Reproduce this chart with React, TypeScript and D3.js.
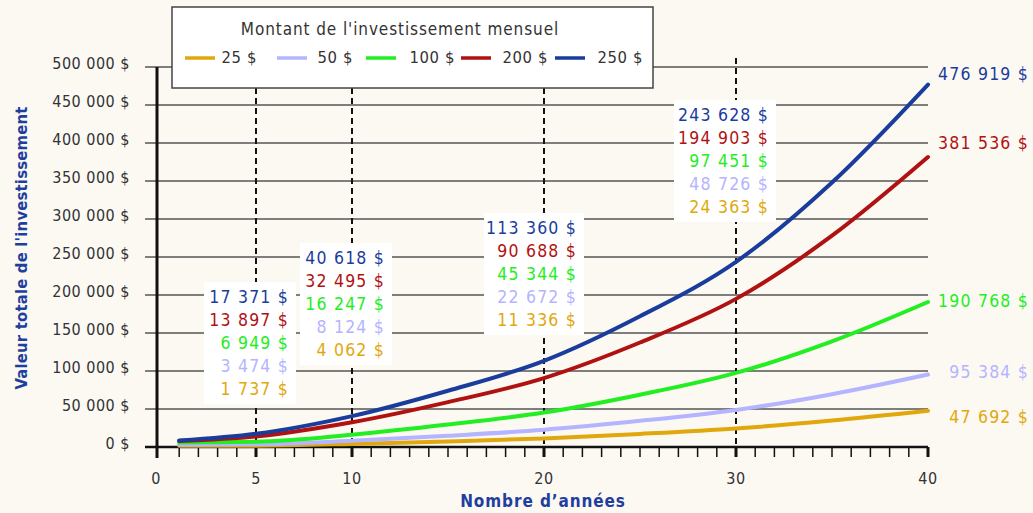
import React from 'react';
import * as d3 from 'd3';

// années et valeurs
const years = [1, 5, 10, 15, 20, 25, 30, 35, 40];
const amounts = ['25 $', '50 $', '100 $', '200 $', '250 $'];
const values25 = [1500, 1737, 4062, 7400, 11336, 17200, 24363, 34800, 47692];
const values50 = [3000, 3474, 8124, 14750, 22672, 34400, 48726, 69500, 95384];
const values100 = [6000, 6949, 16247, 29500, 45344, 68800, 97451, 139000, 190768];
const values200 = [8000, 13897, 32495, 59000, 90688, 137500, 194903, 278000, 381536];
const values250 = [8500, 17371, 40618, 74000, 113360, 172000, 243628, 348000, 476919];
const markedYears = [5, 10, 20, 30];
const xTickLabels = [0, 5, 10, 20, 30, 40];
const yTicks = d3.range(0, 500001, 50000);

const colors = ['#e0a80c', '#b4b4ff', '#22ee22', '#b01212', '#1a3c9c'];
const series = [values25, values50, values100, values200, values250];

const FONT = "'DejaVu Sans Condensed', 'DejaVu Sans', sans-serif";
const BLUE = '#1f3f9f';

const locale = d3.formatLocale({ decimal: ',', thousands: ' ', grouping: [3], currency: ['', ''] });
const fmt = (v: number) => locale.format(',')(v) + ' $';

export default function App() {
  const W = 1033, H = 513;
  const x = d3.scaleLinear().domain([0, 40]).range([160, 928]);
  const y = d3.scaleLinear().domain([0, 500000]).range([447, 67]);
  const line = d3.line<[number, number]>()
    .x(d => x(d[0]))
    .y(d => y(d[1]))
    .curve(d3.curveMonotoneX);

  // annotation box layout (pixels)
  const boxTop = [282, 243, 213, 100];
  const boxWidth = [92, 92, 100, 102];
  const endOffsets = [7, -1.5, 0, -13, -9.5];
  const legendSwatchX = [185, 277, 366, 461, 555];
  const legendTextX = [257, 353, 455, 548, 643];

  return (
    <svg width={W} height={H} style={{ position: 'absolute', left: 0, top: 0 }} fontFamily={FONT}>
      <rect width={W} height={H} fill="#fcf9f3" />

      {/* grid lines */}
      {yTicks.map(t => (
        <line key={t} x1={145} x2={x(40)} y1={y(t)} y2={y(t)}
          stroke={t === 0 ? '#111' : '#555'} strokeWidth={t === 0 ? 2.5 : 1.4} />
      ))}
      {/* dashed year lines */}
      {markedYears.map(yr => (
        <line key={yr} x1={x(yr)} x2={x(yr)} y1={58} y2={y(0)}
          stroke="#111" strokeWidth={2} strokeDasharray="6 4" />
      ))}
      {/* y axis */}
      <line x1={x(0) - 3} x2={x(0) - 3} y1={y(500000)} y2={y(0) + 11} stroke="#111" strokeWidth={3} />
      {/* year ticks */}
      {d3.range(1, 41).map(yr => (
        <line key={yr} x1={x(yr)} x2={x(yr)} y1={y(0)} y2={y(0) + 10}
          stroke="#111" strokeWidth={yr % 10 === 0 || yr === 5 ? 3 : 1.5} />
      ))}
      {yTicks.map(t => (
        <text key={t} x={130} y={y(t) - 3} textAnchor="end" dominantBaseline="middle"
          fontSize={16} letterSpacing={0.5} fill="#333" fontStretch="condensed">{fmt(t)}</text>
      ))}
      {xTickLabels.map(t => (
        <text key={t} x={x(t) - (t === 0 ? 4 : 0)} y={479} textAnchor="middle" dominantBaseline="middle"
          fontSize={16} letterSpacing={0.5} fill="#333" fontStretch="condensed">{t}</text>
      ))}

      {/* curves */}
      {series.map((vals, i) => (
        <path key={i} d={line(years.map((yr, j) => [yr, vals[j]] as [number, number])) || ''}
          fill="none" stroke={colors[i]} strokeWidth={4} strokeLinecap="round" />
      ))}

      {/* annotation boxes */}
      {markedYears.map((yr, k) => {
        const j = years.indexOf(yr);
        const right = x(yr) + 40;
        return (
          <g key={yr}>
            <rect x={right - boxWidth[k]} y={boxTop[k]} width={boxWidth[k]} height={122} fill="#fff" />
            {[4, 3, 2, 1, 0].map((si, r) => (
              <text key={si} x={right - 7} y={boxTop[k] + 16 + r * 23} textAnchor="end"
                dominantBaseline="middle" fontSize={17.5} letterSpacing={1.2} fill={colors[si]} fontStretch="condensed">
                {fmt(series[si][j])}
              </text>
            ))}
          </g>
        );
      })}

      {/* end labels */}
      {series.map((vals, i) => (
        <text key={i} x={1029} y={y(vals[vals.length - 1]) + endOffsets[i]} textAnchor="end"
          dominantBaseline="middle" fontSize={17.5} letterSpacing={1.2} fill={colors[i]} fontStretch="condensed">
          {fmt(vals[vals.length - 1])}
        </text>
      ))}

      {/* legend */}
      <rect x={172} y={7} width={481} height={81} fill="#fff" stroke="#444" strokeWidth={1.5} />
      <text x={400} y={30} textAnchor="middle" dominantBaseline="middle" fontSize={17}
        letterSpacing={0.9} fill="#333" fontStretch="condensed">Montant de l'investissement mensuel</text>
      {amounts.map((a, i) => (
        <g key={a}>
          <line x1={legendSwatchX[i]} x2={legendSwatchX[i] + 30} y1={58} y2={58} stroke={colors[i]} strokeWidth={3.5} />
          <text x={legendTextX[i]} y={58} textAnchor="end" dominantBaseline="middle" fontSize={16.5}
            letterSpacing={0.6} fill="#333" fontStretch="condensed">{a}</text>
        </g>
      ))}

      {/* axis titles */}
      <text transform="translate(22,248) rotate(-90)" textAnchor="middle" dominantBaseline="middle"
        fontSize={16.5} letterSpacing={0.2} fontWeight="bold" fill={BLUE} fontStretch="condensed">Valeur totale de l'investissement</text>
      <text x={543} y={502} textAnchor="middle" dominantBaseline="middle" fontSize={17}
        letterSpacing={0.9} fontWeight="bold" fill={BLUE} fontStretch="condensed">Nombre d’années</text>
    </svg>
  );
}
